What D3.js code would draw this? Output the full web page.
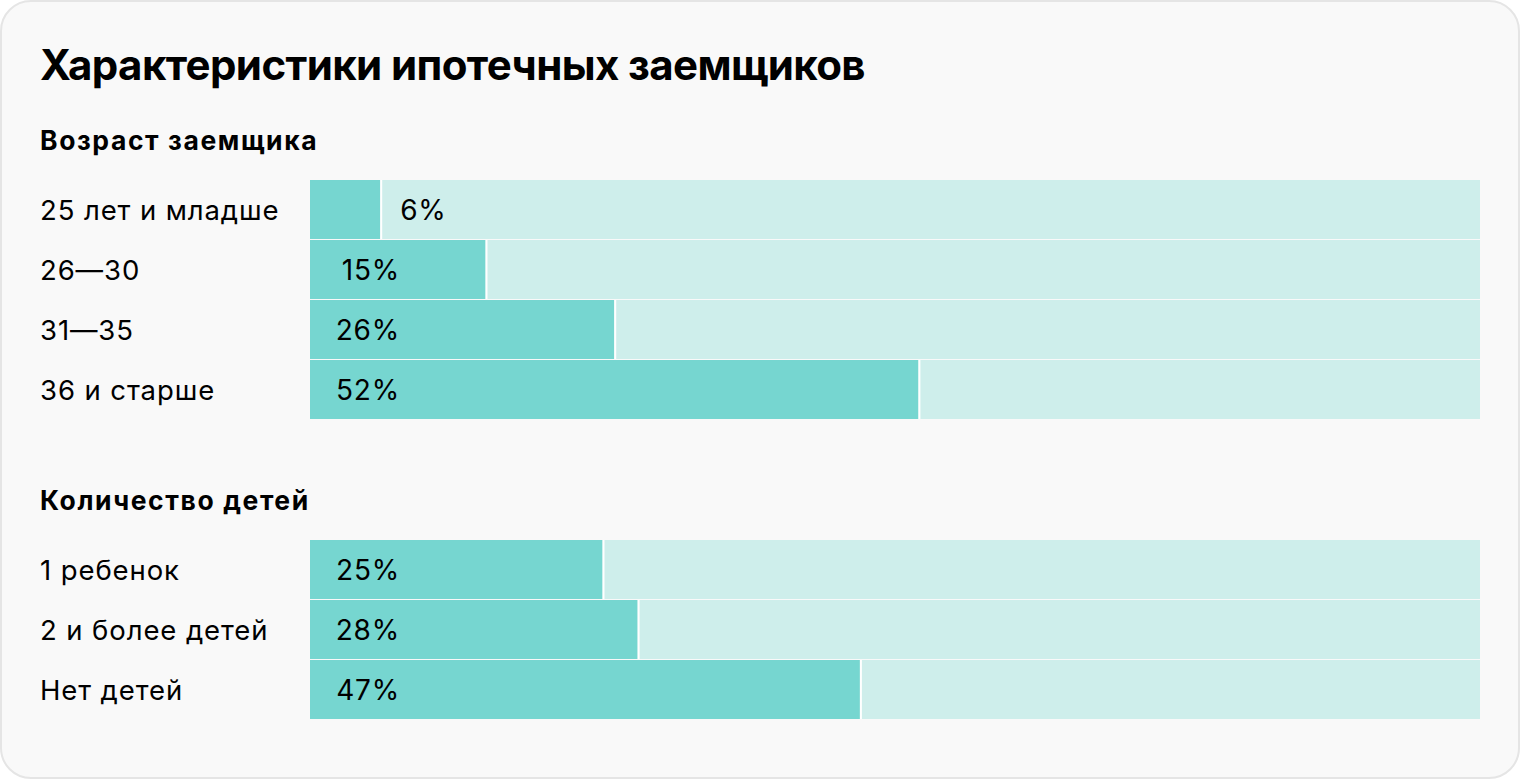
<!DOCTYPE html>
<html><head><meta charset="utf-8">
<script src="https://cdn.jsdelivr.net/npm/d3@7"></script>
<style>
html,body{margin:0;padding:0;background:#fff;}
svg{display:block;}
text{font-family:Inter,"Noto Sans",sans-serif;fill:#000;}
</style></head><body>
<svg id="c" width="1520" height="780"></svg>
<script>
const title = "Характеристики ипотечных заемщиков";
const group1Title = "Возраст заемщика";
const group1Categories = ["25 лет и младше", "26—30", "31—35", "36 и старше"];
const group1Values = [6, 15, 26, 52];
const group2Title = "Количество детей";
const group2Categories = ["1 ребенок", "2 и более детей", "Нет детей"];
const group2Values = [25, 28, 47];

const svg = d3.select("#c");
svg.append("rect").attr("x",1).attr("y",1).attr("width",1518).attr("height",777)
  .attr("rx",30).attr("ry",30).attr("fill","#f9f9f9").attr("stroke","#e5e5e5").attr("stroke-width",2);

svg.append("text").attr("x",40).attr("y",80).attr("font-size",42).attr("font-weight",700)
  .attr("letter-spacing",-0.6).text(title);

const x = d3.scaleLinear().domain([0,100]).range([310,1480]);
const dark = "#76d6d0", light = "#ceeeeb";

function drawGroup(gTitle, titleY, cats, vals, top){
  svg.append("text").attr("x",40).attr("y",titleY).attr("font-size",26.5).attr("font-weight",700)
    .attr("letter-spacing",1.6).text(gTitle);
  const y = d3.scaleBand().domain(cats).range([top, top + cats.length*60]).paddingInner(0);
  const g = svg.append("g");
  const rows = g.selectAll("g.row").data(cats.map((c,i)=>({c, v:vals[i]}))).join("g");
  rows.append("rect").attr("x",x(0)).attr("y",d=>y(d.c)).attr("width",x(100)-x(0))
    .attr("height",y.bandwidth()-1).attr("fill",light);
  rows.append("rect").attr("x",x(0)).attr("y",d=>y(d.c)).attr("width",d=>x(d.v)-x(0))
    .attr("height",y.bandwidth()-1).attr("fill",dark);
  rows.append("line").attr("x1",d=>x(d.v)+1).attr("x2",d=>x(d.v)+1)
    .attr("y1",d=>y(d.c)).attr("y2",d=>y(d.c)+y.bandwidth()-1)
    .attr("stroke","#ffffff").attr("stroke-width",2);
  rows.append("text").attr("x",40).attr("y",d=>y(d.c)+y.bandwidth()/2).attr("dy","0.36em")
    .attr("font-size",27.5).attr("letter-spacing",0.9).text(d=>d.c);
  rows.append("text")
    .attr("x",d=> (x(d.v)-x(0) < 90) ? x(d.v)+20 : x(0)+90)
    .attr("text-anchor",d=> (x(d.v)-x(0) < 90) ? "start" : "end")
    .attr("y",d=>y(d.c)+y.bandwidth()/2).attr("dy","0.36em")
    .attr("font-size",28).attr("letter-spacing",0.8).text(d=>d.v+"%");
}
drawGroup(group1Title, 150, group1Categories, group1Values, 180);
drawGroup(group2Title, 510, group2Categories, group2Values, 540);
</script></body></html>
